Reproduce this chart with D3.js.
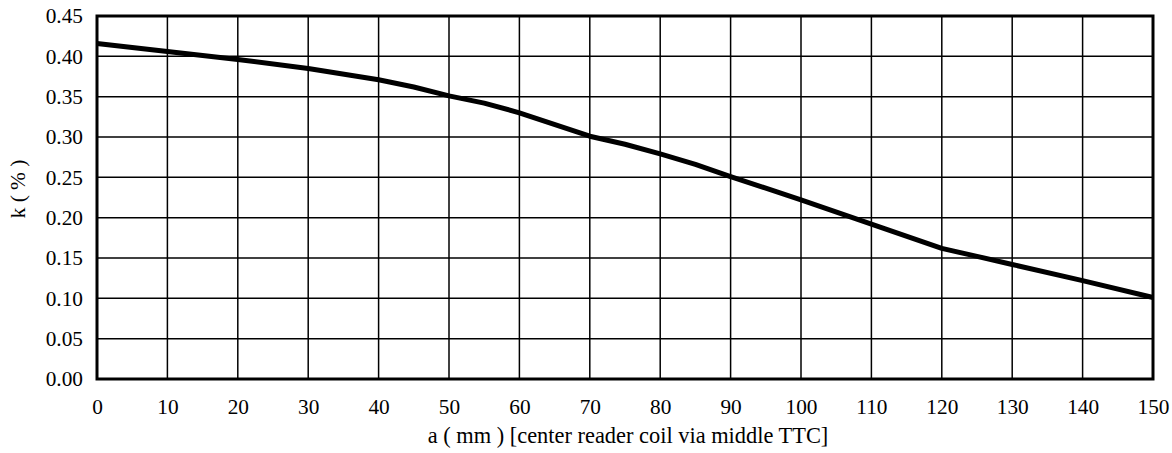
<!DOCTYPE html>
<html>
<head>
<meta charset="utf-8">
<style>
  body { margin: 0; background: #fff; }
</style>
</head>
<body>
<div id="chart"></div>
<script src="https://d3js.org/d3.v7.min.js"></script>
<script>
// distance a (mm) and coupling k (%)
var aValues = [0, 10, 20, 30, 40, 45, 50, 55, 60, 70, 75, 80, 85, 90, 100, 110, 120, 125, 130, 140, 150];
var kValues = [0.416, 0.406, 0.396, 0.385, 0.371, 0.362, 0.351, 0.342, 0.330, 0.301, 0.291, 0.279, 0.266, 0.251, 0.222, 0.192, 0.162, 0.152, 0.142, 0.122, 0.101];
var xTicks = [0, 10, 20, 30, 40, 50, 60, 70, 80, 90, 100, 110, 120, 130, 140, 150];
var yTicks = [0, 0.05, 0.10, 0.15, 0.20, 0.25, 0.30, 0.35, 0.40, 0.45];

var W = 1172, H = 453;
var margin = {top: 16, right: 19, bottom: 74, left: 97};
var width = W - margin.left - margin.right,
    height = H - margin.top - margin.bottom;
var fontSize = "21.3px";

var svg = d3.select("#chart").append("svg")
    .attr("width", W).attr("height", H)
  .append("g")
    .attr("transform", "translate(" + margin.left + "," + margin.top + ")");

var x = d3.scaleLinear().domain([0, 150]).range([0, width]);
var y = d3.scaleLinear().domain([0, 0.45]).range([height, 0]);

// grid
svg.append("g")
    .selectAll("line")
    .data(xTicks.slice(1, -1))
    .enter().append("line")
    .attr("x1", d => x(d)).attr("x2", d => x(d))
    .attr("y1", 0).attr("y2", height)
    .attr("stroke", "#000").attr("stroke-width", 1.5);
svg.append("g")
    .selectAll("line")
    .data(yTicks.slice(1, -1))
    .enter().append("line")
    .attr("x1", 0).attr("x2", width)
    .attr("y1", d => y(d)).attr("y2", d => y(d))
    .attr("stroke", "#000").attr("stroke-width", 1.5);

// axes (labels only)
var xAxis = svg.append("g")
    .attr("transform", "translate(0," + height + ")")
    .call(d3.axisBottom(x).tickValues(xTicks).tickSize(0).tickPadding(20).tickFormat(d3.format("d")));
var yAxis = svg.append("g")
    .call(d3.axisLeft(y).tickValues(yTicks).tickSize(0).tickPadding(14).tickFormat(d3.format(".2f")));
[xAxis, yAxis].forEach(function(g) {
  g.attr("font-family", null).attr("font-size", null);
  g.select(".domain").remove();
  g.selectAll("text")
    .style("font-family", "'Liberation Serif'")
    .style("font-size", fontSize)
    .style("fill", "#000");
});

// frame
svg.append("rect")
    .attr("x", 0).attr("y", 0)
    .attr("width", width).attr("height", height)
    .attr("fill", "none").attr("stroke", "#000").attr("stroke-width", 3);

// the curve
var pts = aValues.map((a, i) => [a, kValues[i]]);
svg.append("path")
    .datum(pts)
    .attr("fill", "none")
    .attr("stroke", "#000")
    .attr("stroke-width", 5)
    .attr("stroke-linejoin", "round")
    .attr("d", d3.line().x(d => x(d[0])).y(d => y(d[1])));

// axis titles
svg.append("text")
    .attr("x", width / 2 + 3).attr("y", height + 64)
    .attr("text-anchor", "middle")
    .style("font-family", "'Liberation Serif'")
    .style("font-size", "22.4px")
    .text("a ( mm ) [center reader coil via middle TTC]");
svg.append("text")
    .attr("transform", "translate(" + (-72) + "," + 173 + ") rotate(-90)")
    .attr("text-anchor", "middle")
    .style("font-family", "'Liberation Serif'")
    .style("font-size", fontSize)
    .text("k ( % )");
</script>
</body>
</html>
